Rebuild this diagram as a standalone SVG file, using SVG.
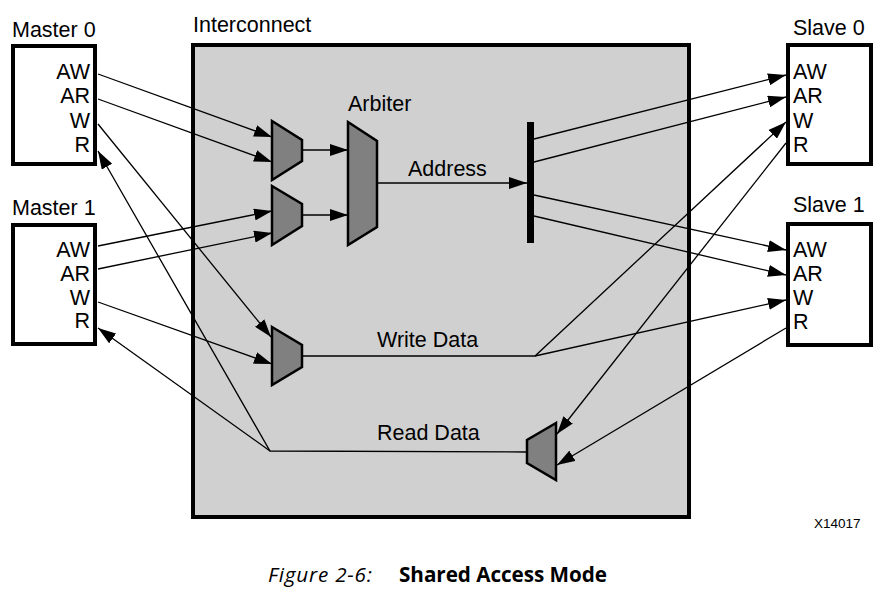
<svg xmlns="http://www.w3.org/2000/svg" width="884" height="613" viewBox="0 0 884 613">
<defs>
<marker id="ah" markerUnits="userSpaceOnUse" markerWidth="18" markerHeight="12" refX="18" refY="6" orient="auto" viewBox="0 0 18 12">
<path d="M0,0 L18,6 L0,12 z" fill="#000"/>
</marker>
</defs>
<style>
.t{font-family:"Liberation Sans",Arial,sans-serif;font-size:21.5px;fill:#000}
.box{fill:#fff;stroke:#000;stroke-width:4}
.mux{fill:#808080;stroke:#000;stroke-width:2.5;stroke-linejoin:miter}
.ln{fill:none;stroke:#000;stroke-width:1.3}
.ar{marker-end:url(#ah)}
.cap{font-family:"Open Sans",sans-serif;font-size:20.7px;fill:#000}
</style>
<rect width="884" height="613" fill="#fff"/>
<g id="interconnect">
<rect x="193" y="45" width="496" height="472" fill="#d0d0d0" stroke="#000" stroke-width="4"/>
<text class="t" x="193" y="32">Interconnect</text>
</g>
<g id="master0">
<rect class="box" x="13" y="46" width="82" height="118"/>
<text class="t" x="12" y="37">Master 0</text>
<text class="t" x="90" y="79" text-anchor="end">AW</text>
<text class="t" x="90" y="103" text-anchor="end">AR</text>
<text class="t" x="90" y="128" text-anchor="end">W</text>
<text class="t" x="90" y="152" text-anchor="end">R</text>
</g>
<g id="master1">
<rect class="box" x="13" y="225" width="82" height="119"/>
<text class="t" x="12" y="215">Master 1</text>
<text class="t" x="90" y="257" text-anchor="end">AW</text>
<text class="t" x="90" y="281" text-anchor="end">AR</text>
<text class="t" x="90" y="305" text-anchor="end">W</text>
<text class="t" x="90" y="328" text-anchor="end">R</text>
</g>
<g id="slave0">
<rect class="box" x="788" y="45" width="83" height="119"/>
<text class="t" x="793" y="35">Slave 0</text>
<text class="t" x="793" y="79">AW</text>
<text class="t" x="793" y="103">AR</text>
<text class="t" x="793" y="128">W</text>
<text class="t" x="793" y="152">R</text>
</g>
<g id="slave1">
<rect class="box" x="788" y="224" width="83" height="121"/>
<text class="t" x="793" y="212">Slave 1</text>
<text class="t" x="793" y="257">AW</text>
<text class="t" x="793" y="281">AR</text>
<text class="t" x="793" y="305">W</text>
<text class="t" x="793" y="329">R</text>
</g>
<g id="mux-addr0">
<polygon class="mux" points="272,121 302,140 302,161 272,180"/>
</g>
<g id="mux-addr1">
<polygon class="mux" points="272,186 302,204 302,226 272,245"/>
</g>
<g id="arbiter">
<polygon class="mux" points="348,122 377,141 377,227 348,245"/>
<text class="t" x="348" y="111">Arbiter</text>
</g>
<g id="address-bus">
<rect x="527" y="122" width="7" height="121" fill="#000"/>
<text class="t" x="408" y="176">Address</text>
</g>
<g id="mux-write">
<polygon class="mux" points="272,327 302,345 302,367 272,385"/>
<text class="t" x="377" y="347">Write Data</text>
</g>
<g id="mux-read">
<polygon class="mux" points="556,423 527,440 527,463 556,480"/>
<text class="t" x="377" y="440">Read Data</text>
</g>
<g id="connectors">
<line class="ln ar" x1="98" y1="74" x2="272" y2="137"/>
<line class="ln ar" x1="98" y1="99" x2="272" y2="162"/>
<line class="ln ar" x1="98" y1="246" x2="272" y2="211"/>
<line class="ln ar" x1="98" y1="269" x2="272" y2="233"/>
<line class="ln ar" x1="98" y1="124" x2="271" y2="337"/>
<line class="ln ar" x1="98" y1="302" x2="272" y2="364"/>
<line class="ln ar" x1="302" y1="150" x2="348" y2="150"/>
<line class="ln ar" x1="302" y1="215" x2="348" y2="215"/>
<line class="ln ar" x1="377" y1="183" x2="527" y2="183"/>
<line class="ln ar" x1="534" y1="139" x2="786" y2="75"/>
<line class="ln ar" x1="534" y1="162" x2="786" y2="97"/>
<line class="ln ar" x1="534" y1="195" x2="786" y2="250"/>
<line class="ln ar" x1="534" y1="216" x2="786" y2="275"/>
<polyline class="ln ar" points="302,356 535,356 786,122"/>
<line class="ln ar" x1="535" y1="356" x2="786" y2="300"/>
<line class="ln ar" x1="786" y1="143" x2="557" y2="434"/>
<line class="ln ar" x1="786" y1="328" x2="557" y2="465"/>
<polyline class="ln ar" points="527,452 270,451 98,151"/>
<line class="ln ar" x1="270" y1="451" x2="98" y2="328"/>
</g>
<text x="814" y="528" style="font-family:'Liberation Sans',Arial,sans-serif;font-size:13.5px;fill:#000">X14017</text>
<text class="cap" x="268" y="582" font-style="italic" textLength="104" lengthAdjust="spacing">Figure 2-6:</text>
<text class="cap" x="399" y="582" font-weight="bold" textLength="208" lengthAdjust="spacing">Shared Access Mode</text>
</svg>
